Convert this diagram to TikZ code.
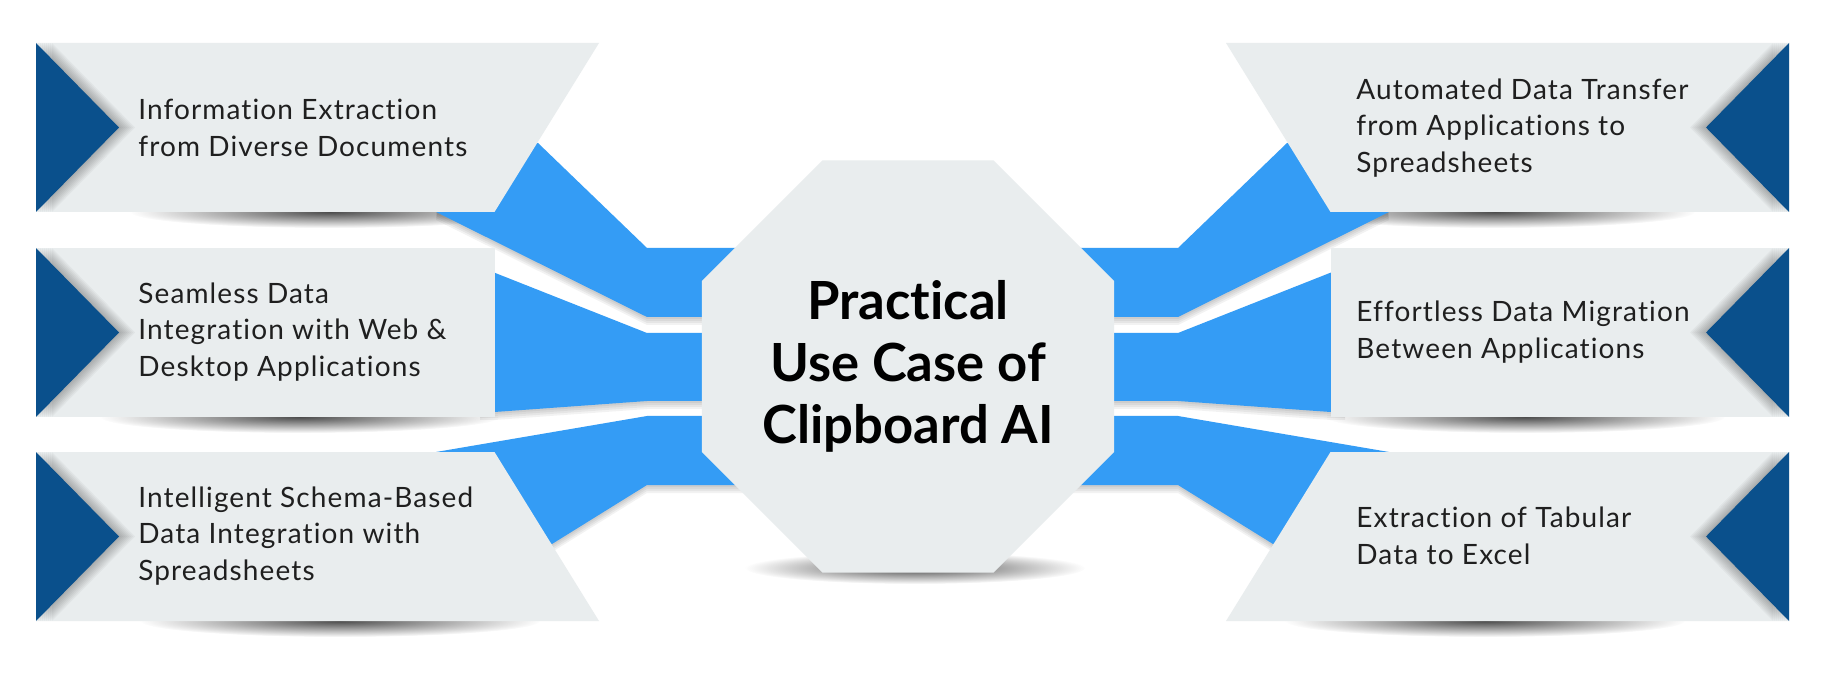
\documentclass[tikz,border=0pt]{standalone}
\usepackage{fontspec}
\setmainfont{Lato}[Ligatures=NoCommon]
\newfontfamily\casefont{Lato}[Ligatures=NoCommon, LetterSpace=4]
\usetikzlibrary{fadings, shapes.geometric}

\definecolor{panelgray}{RGB}{233,237,238}
\definecolor{tipblue}{RGB}{10,80,140}
\definecolor{bandblue}{RGB}{52,156,245}
\tikzfading[name=softspot, inner color=transparent!0, outer color=transparent!100]

\begin{document}
\begin{tikzpicture}[x=0.5pt, y=-0.5pt,
    panel/.style={fill=panelgray},
    tip/.style={fill=tipblue},
    band/.style={fill=bandblue,
      preaction={fill=black, opacity=0.05, transform canvas={yshift=-1pt}},
      preaction={fill=black, opacity=0.05, transform canvas={yshift=-2pt}},
      preaction={fill=black, opacity=0.05, transform canvas={yshift=-3pt}},
      preaction={fill=black, opacity=0.05, transform canvas={yshift=-4pt}}},
    floor/.style={fill=black, opacity=0.7, path fading=softspot},
    soft/.style={fill=black, opacity=0.035},
    usecase/.style={anchor=west, align=left, inner sep=0pt, text=black!88,
      font=\casefont\fontsize{14}{18.35}\selectfont},
    hub/.style={regular polygon, regular polygon sides=8, minimum size=217.6pt,
      inner sep=0pt, fill=panelgray, align=center,
      font=\fontsize{26.3}{30.85}\selectfont\bfseries}]

  \fill[white] (0,0) rectangle (1825,673);
  \useasboundingbox (0,0) rectangle (1825,673);

  % left half, then the same again mirrored to the right
  \foreach \sx/\dx in {1/0, -1/1825} {
    \begin{scope}[shift={(\dx,0)}, xscale=\sx]
      \foreach \t/\c in {43/330, 248/300, 452/340}
        \fill[floor] (\c,\t+169) ellipse (200 and 16);
      % bands into the hub
      \fill[band] (450,150) -- (538,143) -- (647,248) -- (780,248) -- (780,317) -- (647,317) -- (436,212) -- cycle;
      \fill[band] (480,273) -- (494.5,272.7) -- (647,333) -- (780,333) -- (780,401) -- (647,401) -- (494.5,412) -- (480,412) -- cycle;
      \fill[band] (480,500) -- (436,452) -- (647,416) -- (780,416) -- (780,485) -- (647,485) -- (552,544) -- cycle;
      % panels with their tips
      \foreach \t/\a/\b in {43/599/494.5, 248/494.5/494.5, 452/494.5/599} {
        \fill[panel] (36,\t) -- (\a,\t) -- (\b,\t+169) -- (36,\t+169) -- cycle;
        \foreach \d in {2,4,...,16}
          \fill[soft, shift={(\d,0)}] (36,\t) -- (119,\t+84.5) -- (36,\t+169) -- cycle;
        \fill[tip] (36,\t) -- (119,\t+84.5) -- (36,\t+169) -- cycle;
      }
    \end{scope}
  }

  \fill[floor] (915,568) ellipse (170 and 16);
  \node[hub] (hub) at (908,366.5) {Practical\\Use Case of\\Clipboard AI};

  \node[usecase] (docs) at (138,128) {Information Extraction\\from Diverse Documents};
  \node[usecase] (webdesk) at (138,332) {Seamless Data\\Integration with Web \&\\Desktop Applications};
  \node[usecase] (schema) at (138,536) {Intelligent Schema-Based\\Data Integration with\\Spreadsheets};
  \node[usecase] (transfer) at (1356,128) {Automated Data Transfer\\from Applications to\\Spreadsheets};
  \node[usecase] (migrate) at (1356,332) {Effortless Data Migration\\Between Applications};
  \node[usecase] (tables) at (1356,536) {Extraction of Tabular\\Data to Excel};
\end{tikzpicture}
\end{document}
